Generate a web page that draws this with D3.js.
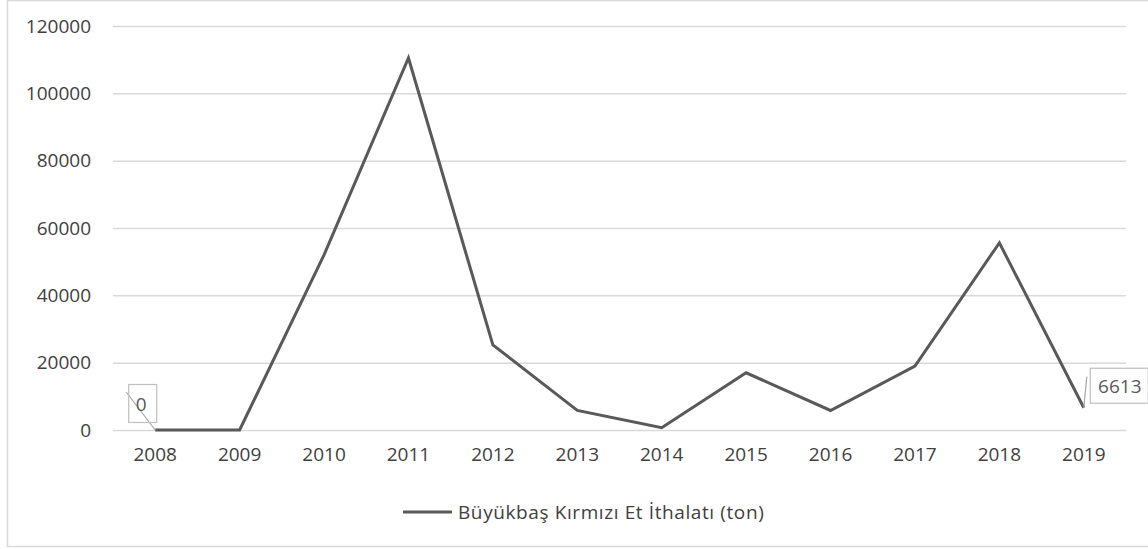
<!DOCTYPE html>
<html>
<head>
<meta charset="utf-8">
<script src="https://cdn.jsdelivr.net/npm/d3@7"></script>
<style>
  html, body { margin: 0; padding: 0; background: #fff; }
  svg { display: block; }
  text { font-family: "Open Sans", "Liberation Sans", sans-serif; }
</style>
</head>
<body>
<div id="chart"></div>
<script>
const WIDTH = 1148;
const HEIGHT = 549;
const YEARS = ["2008", "2009", "2010", "2011", "2012", "2013", "2014", "2015", "2016", "2017", "2018", "2019"];
const IMPORTS = [0, 0, 52000, 110500, 25300, 5800, 700, 17000, 5800, 19000, 55600, 6613];
const Y_TICKS = [0, 20000, 40000, 60000, 80000, 100000, 120000];
const SERIES_NAME = "Büyükbaş Kırmızı Et İthalatı (ton)";
const LABELLED = ["2008", "2019"]; // only first and last point carry a data label

const LINE_COLOR = "#595959";
const GRID_COLOR = "#d9d9d9";
const TEXT_COLOR = "#404040";

const svg = d3.select("#chart")
  .append("svg")
  .attr("width", WIDTH)
  .attr("height", HEIGHT);

// chart frame (cut by the picture on right side)
svg.append("rect")
  .attr("x", 7.5)
  .attr("y", 0.5)
  .attr("width", 1200)
  .attr("height", 546)
  .attr("fill", "#fff")
  .attr("stroke", GRID_COLOR)
  .attr("stroke-width", 1.5);

const xScale = d3.scaleBand()
  .domain(YEARS)
  .range([113, 1126]);

const yScale = d3.scaleLinear()
  .domain([0, 120000])
  .range([430, 26]);

// gridlines + y labels
const yAxis = d3.axisLeft(yScale)
  .tickValues(Y_TICKS)
  .tickSize(-(1126 - 113))
  .tickPadding(22)
  .tickFormat(d3.format("d"));

const gy = svg.append("g")
  .attr("transform", "translate(113,0)")
  .call(yAxis);
gy.select(".domain").remove();
gy.selectAll(".tick line")
  .attr("stroke", GRID_COLOR)
  .attr("stroke-width", 1.5);
gy.selectAll(".tick text")
  .attr("fill", TEXT_COLOR)
  .attr("font-size", "19px");

// x labels
const xAxis = d3.axisBottom(xScale)
  .tickSize(0)
  .tickPadding(18);
const gx = svg.append("g")
  .attr("transform", "translate(0," + yScale(0) + ")")
  .call(xAxis);
gx.select(".domain").remove();
gx.selectAll(".tick text")
  .attr("fill", TEXT_COLOR)
  .attr("font-size", "19px");

// series line
const line = d3.line()
  .x((d, i) => xScale(YEARS[i]) + xScale.bandwidth() / 2)
  .y(d => yScale(d));

svg.append("path")
  .datum(IMPORTS)
  .attr("fill", "none")
  .attr("stroke", LINE_COLOR)
  .attr("stroke-width", 3)
  .attr("stroke-linejoin", "miter")
  .attr("d", line);

// data labels with leader lines
const labelOffsets = {
  "2008": { box: [-27, -46, 28, 38], lead: [-29, -38], text: [-14, -26] },
  "2019": { box: [6, -40, 58, 35], lead: [3, -31], text: [36, -22] }
};
LABELLED.forEach(year => {
  const i = YEARS.indexOf(year);
  const px = xScale(year) + xScale.bandwidth() / 2;
  const py = yScale(IMPORTS[i]);
  const o = labelOffsets[year];
  svg.append("line")
    .attr("x1", px).attr("y1", py)
    .attr("x2", px + o.lead[0]).attr("y2", py + o.lead[1])
    .attr("stroke", "#a6a6a6")
    .attr("stroke-width", 1.2);
  svg.append("rect")
    .attr("x", px + o.box[0] + 0.5)
    .attr("y", py + o.box[1] + 0.5)
    .attr("width", o.box[2])
    .attr("height", o.box[3])
    .attr("fill", "none")
    .attr("stroke", "#bfbfbf")
    .attr("stroke-width", 1.2);
  svg.append("text")
    .attr("x", px + o.text[0])
    .attr("y", py + o.text[1])
    .attr("text-anchor", "middle")
    .attr("dominant-baseline", "central")
    .attr("fill", LINE_COLOR)
    .attr("font-size", "19px")
    .text(d3.format("d")(IMPORTS[i]));
});

// legend
const legend = svg.append("g")
  .attr("transform", "translate(403,512)");
legend.append("line")
  .attr("x1", 0).attr("x2", 49)
  .attr("y1", 0).attr("y2", 0)
  .attr("stroke", LINE_COLOR)
  .attr("stroke-width", 3);
legend.append("text")
  .attr("x", 55)
  .attr("y", 0)
  .attr("dominant-baseline", "central")
  .attr("fill", TEXT_COLOR)
  .attr("font-size", "19px")
  .attr("letter-spacing", "0.6px")
  .text(SERIES_NAME);
</script>
</body>
</html>
